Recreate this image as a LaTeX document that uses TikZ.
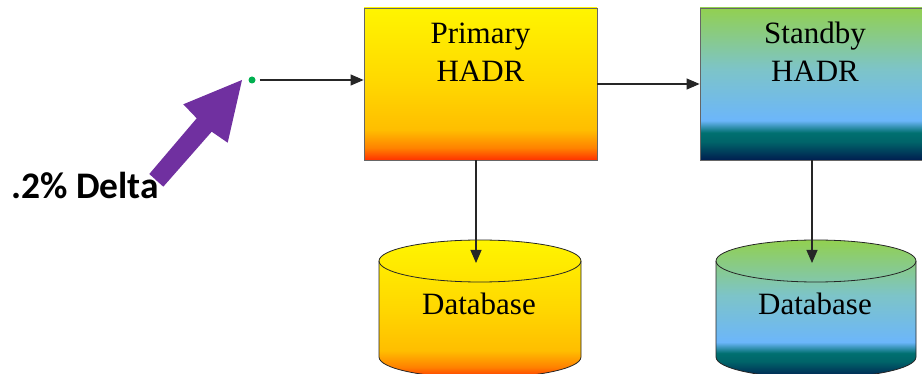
\documentclass[tikz,border=0pt]{standalone}
\usepackage{fontspec}
\setmainfont{Liberation Serif}
\newfontfamily\deltafont{Carlito}
\usetikzlibrary{arrows.meta}
\definecolor{pA}{RGB}{255,50,0}
\definecolor{pB}{RGB}{255,130,0}
\definecolor{pC}{RGB}{255,190,0}
\definecolor{pD}{RGB}{255,215,0}
\definecolor{pE}{RGB}{255,245,0}
\definecolor{sA}{RGB}{0,30,80}
\definecolor{sB}{RGB}{0,100,105}
\definecolor{sC}{RGB}{0,112,112}
\definecolor{sD}{RGB}{108,182,250}
\definecolor{sE}{RGB}{125,196,200}
\definecolor{sF}{RGB}{146,208,80}
\definecolor{arrowpurple}{RGB}{112,48,160}
\definecolor{dotgreen}{RGB}{0,176,80}
\pgfdeclareverticalshading{primshade}{100bp}{color(0bp)=(pA); color(25bp)=(pA); color(29bp)=(pB); color(35bp)=(pC); color(50bp)=(pD); color(75bp)=(pE); color(100bp)=(pE)}
\pgfdeclareverticalshading{stbyshade}{100bp}{color(0bp)=(sA); color(25bp)=(sA); color(31bp)=(sB); color(34bp)=(sC); color(38bp)=(sD); color(55bp)=(sE); color(75bp)=(sF); color(100bp)=(sF)}
\tikzset{
  hadrbox/.style={rectangle, draw=black!60, line width=0.8pt, minimum width=233pt, minimum height=152pt, inner sep=0pt},
  boxtext/.style={font=\fontsize{31}{38.5}\selectfont, align=center, anchor=base, inner sep=0pt},
  conn/.style={draw=black!85, line width=1.1pt, -{Triangle[length=13pt,width=11pt]}},
  cyl/.style={draw=black!85, line width=0.8pt},
}
\begin{document}
\begin{tikzpicture}[x=1pt,y=-1pt]
\useasboundingbox (0,0) rectangle (922,374);
\clip (0,0) rectangle (922,374);
% boxes
\node[hadrbox, shading=primshade] (prim) at (480.5,84) {};
\node[hadrbox, shading=stbyshade] (stby) at (816.5,84) {};
\node[boxtext] (primtxt) at (480.5,82) {Primary\\HADR};
\node[boxtext] (stbytxt) at (815,82) {Standby\\HADR};
% cylinders
\path[cyl, shading=primshade] (379,261) arc[start angle=180,end angle=0,x radius=101pt,y radius=21pt] -- (581,357) arc[start angle=0,end angle=-180,x radius=101pt,y radius=21pt] -- cycle;
\draw[cyl] (379,261) arc[start angle=180,end angle=360,x radius=101pt,y radius=21pt];
\path[cyl, shading=stbyshade] (716,261) arc[start angle=180,end angle=0,x radius=100pt,y radius=21pt] -- (916,357) arc[start angle=0,end angle=-180,x radius=100pt,y radius=21pt] -- cycle;
\draw[cyl] (716,261) arc[start angle=180,end angle=360,x radius=100pt,y radius=21pt];
\node[boxtext] (db1) at (479,315) {Database};
\node[boxtext] (db2) at (815,315) {Database};
\coordinate (db1top) at (476,263);
\coordinate (db2top) at (812,263);
% dot and purple arrow
\node[circle, fill=dotgreen, inner sep=0pt, minimum size=7pt] (dot) at (252,80) {};
\fill[arrowpurple] (242,80) -- (183.3,104.3) -- (196.7,118.3) -- (149.3,174) -- (163.3,186.7) -- (211.7,131.7) -- (227.7,142.7) -- cycle;
\node[anchor=base west, inner sep=0pt, font=\deltafont\bfseries\fontsize{37.5}{42}\selectfont] (delta) at (11,199) {.2\% Delta};
% connectors
\draw[conn, shorten <=4pt] (dot) -- (dot -| prim.west);
\draw[conn] (prim.east |- 0,84) -- (stby.west |- 0,84);
\draw[conn] (prim.south -| db1top) -- (db1top);
\draw[conn] (stby.south -| db2top) -- (db2top);
\end{tikzpicture}
\end{document}
